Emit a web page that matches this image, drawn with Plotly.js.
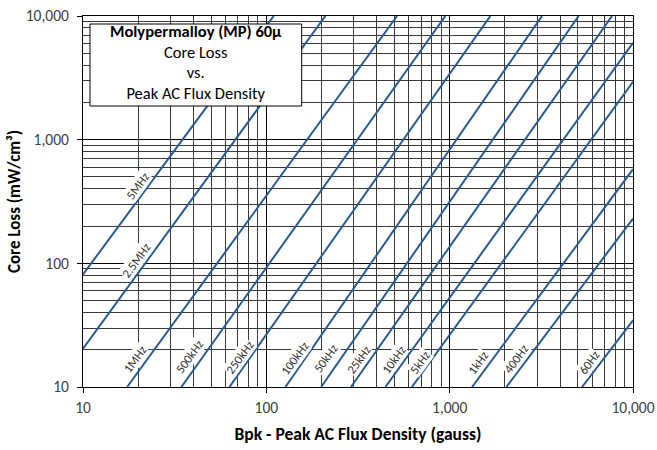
<!DOCTYPE html>
<html>
<head>
<meta charset="utf-8">
<script src="https://cdn.plot.ly/plotly-3.0.1.min.js"></script>
<style>html,body{margin:0;padding:0;background:#fff;}#chart{width:657px;height:450px;}</style>
</head>
<body>
<div id="chart"></div>
<script>
// Frequency curves
const freqLabels = ['5MHz','2.5MHz','1MHz','500kHz','250kHz','100kHz','50kHz','25kHz','10kHz','5kHz','1kHz','400Hz','60Hz'];
const fluxStart = [10, 10, 17.4, 34.4, 62.9, 127.1, 199, 289.3, 446, 622, 1325, 2038, 5272];
const lossStart = [81.2, 20.4, 10, 10, 10, 10, 10, 10, 10, 10, 10, 10, 10];
const fluxEnd   = [109.7, 210, 516.6, 947.5, 1667, 3189, 5050, 7686, 10000, 10000, 10000, 10000, 10000];
const lossEnd   = [10000, 10000, 10000, 10000, 10000, 10000, 10000, 10000, 6070, 2935, 577, 230.4, 34.6];

// Tick labels
const tickVals = [10, 100, 1000, 10000];
const tickText = ['10', '100', '1,000', '10,000'];

// Title box lines
const titleLines = ['<b>Molypermalloy (MP) 60µ</b>', 'Core Loss', 'vs.', 'Peak AC Flux Density'];

// Label anchor positions (log10 of axis values)
const labelPosX = [1.300, 1.290, 1.281, 1.581, 1.853, 2.153, 2.322, 2.504, 2.695, 2.835, 3.154, 3.363, 3.759];
const labelPosY = [2.626, 2.019, 1.224, 1.243, 1.240, 1.232, 1.232, 1.223, 1.223, 1.202, 1.202, 1.230, 1.202];

const FONT = 'Carlito, Lato, "Open Sans", sans-serif';
const lineColor = '#285A94';

const traces = freqLabels.map((name, i) => ({
  type: 'scatter', mode: 'lines', name: name,
  x: [fluxStart[i], fluxEnd[i]],
  y: [lossStart[i], lossEnd[i]],
  line: {color: lineColor, width: 2},
  hoverinfo: 'name'
}));

const minorVals = [];
for (let d = 10; d < 10000; d *= 10) {
  for (let k = 2; k <= 9; k++) minorVals.push(d * k);
}

const annotations = freqLabels.map((name, i) => ({
  xref: 'x', yref: 'y', x: labelPosX[i], y: labelPosY[i],
  text: name, showarrow: false, textangle: -54,
  font: {family: FONT, size: 12.5, color: '#333'},
  bgcolor: '#ffffff', borderpad: 0
}));

// one text block; base size sets the line spacing, span size sets glyph size
annotations.push({
  xref: 'paper', yref: 'paper', x: 0.2055, y: 0.876,
  xanchor: 'center', yanchor: 'middle', align: 'center',
  text: titleLines.map(t => '<span style="font-size:16.5px">' + t + '</span>').join('<br>'),
  showarrow: false,
  font: {family: FONT, size: 15.8, color: '#000'}
});

const shapes = [{
  type: 'rect', xref: 'paper', yref: 'paper',
  x0: 0.0127, x1: 0.3976, y0: 0.7574, y1: 0.9784,
  line: {color: '#000', width: 1}, fillcolor: '#ffffff', layer: 'above'
}];

const axisCommon = {
  type: 'log',
  tickmode: 'array', tickvals: tickVals, ticktext: tickText,
  ticks: 'outside', ticklen: 5, tickcolor: '#000', tickwidth: 1,
  showline: true, linecolor: '#000', linewidth: 1, mirror: true,
  showgrid: true, gridcolor: '#000', gridwidth: 1,
  zeroline: false,
  tickfont: {family: FONT, size: 15.5, color: '#404040'},
  minor: {tickmode: 'array', tickvals: minorVals, showgrid: true, gridcolor: '#3a3a3a', gridwidth: 1, ticks: ''}
};

const layout = {
  width: 657, height: 450,
  margin: {l: 83, r: 24, t: 16, b: 63},
  paper_bgcolor: '#fff', plot_bgcolor: '#fff',
  showlegend: false,
  xaxis: Object.assign({}, axisCommon, {
    range: [1, 4],
    ticklabelstandoff: 1,
    title: {text: '<b>Bpk - Peak AC Flux Density (gauss)</b>', font: {family: FONT, size: 17.5, color: '#000'}, standoff: 12}
  }),
  yaxis: Object.assign({}, axisCommon, {
    range: [1, 4],
    ticklabelstandoff: 5,
    title: {text: '<b>Core Loss (mW/cm³)</b>', font: {family: FONT, size: 17, color: '#000'}, standoff: 0}
  }),
  shapes: shapes,
  annotations: annotations
};

Plotly.newPlot('chart', traces, layout, {displayModeBar: false, staticPlot: true});
</script>
</body>
</html>
